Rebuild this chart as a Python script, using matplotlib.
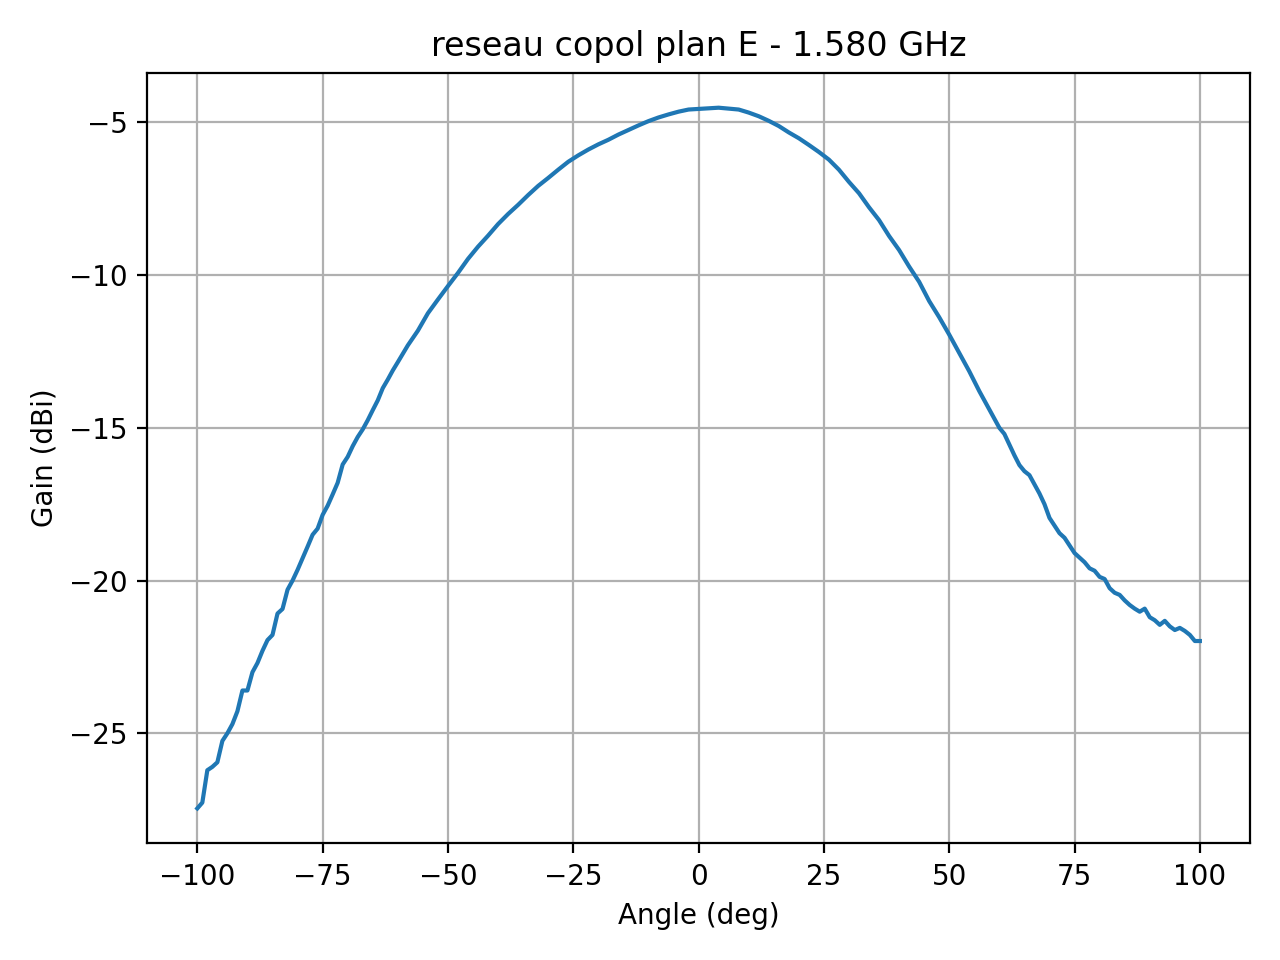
import matplotlib
matplotlib.use("Agg")
import matplotlib.pyplot as plt

# angles en degres
angle = ([a for a in range(-100, -59)]
         + [a for a in range(-58, 59, 2)]
         + [a for a in range(60, 101)])

gain_gauche = [-27.46, -27.27, -26.21, -26.1, -25.95, -25.25, -25.0, -24.7, -24.28, -23.6,
               -23.6, -23.0, -22.7, -22.3, -21.95, -21.78, -21.08, -20.93, -20.3, -20.0,
               -19.65, -19.27, -18.89, -18.5, -18.3, -17.85, -17.55, -17.18, -16.8, -16.2,
               -15.95, -15.6, -15.3, -15.05, -14.75, -14.42, -14.1, -13.7, -13.42, -13.12,
               -12.85]
gain_milieu = [-12.3, -11.82, -11.25, -10.8, -10.36, -9.93, -9.47, -9.07, -8.71, -8.33,
               -8.0, -7.7, -7.38, -7.08, -6.82, -6.55, -6.29, -6.08, -5.89, -5.72,
               -5.57, -5.4, -5.25, -5.1, -4.96, -4.84, -4.74, -4.65, -4.58, -4.56,
               -4.54, -4.52, -4.55, -4.58, -4.68, -4.8, -4.95, -5.12, -5.33, -5.52,
               -5.74, -5.97, -6.22, -6.55, -6.95, -7.32, -7.78, -8.2, -8.72, -9.18,
               -9.72, -10.22, -10.85, -11.38, -11.95, -12.55, -13.15, -13.8, -14.4]
gain_droite = [-15.0, -15.2, -15.55, -15.9, -16.22, -16.42, -16.55, -16.85, -17.15, -17.5,
               -17.95, -18.2, -18.45, -18.6, -18.85, -19.1, -19.25, -19.4, -19.6, -19.68,
               -19.88, -19.95, -20.25, -20.4, -20.47, -20.65, -20.8, -20.92, -21.02, -20.92,
               -21.2, -21.3, -21.45, -21.32, -21.5, -21.62, -21.55, -21.65, -21.78, -21.98,
               -21.98]
gain = gain_gauche + gain_milieu + gain_droite

fig = plt.figure(figsize=(6.4, 4.8), dpi=200)
plt.plot(angle, gain)
plt.title("reseau copol plan E - 1.580 GHz")
plt.xlabel("Angle (deg)")
plt.ylabel("Gain (dBi)")
plt.grid(True)
plt.tight_layout()
plt.savefig("out.png")
